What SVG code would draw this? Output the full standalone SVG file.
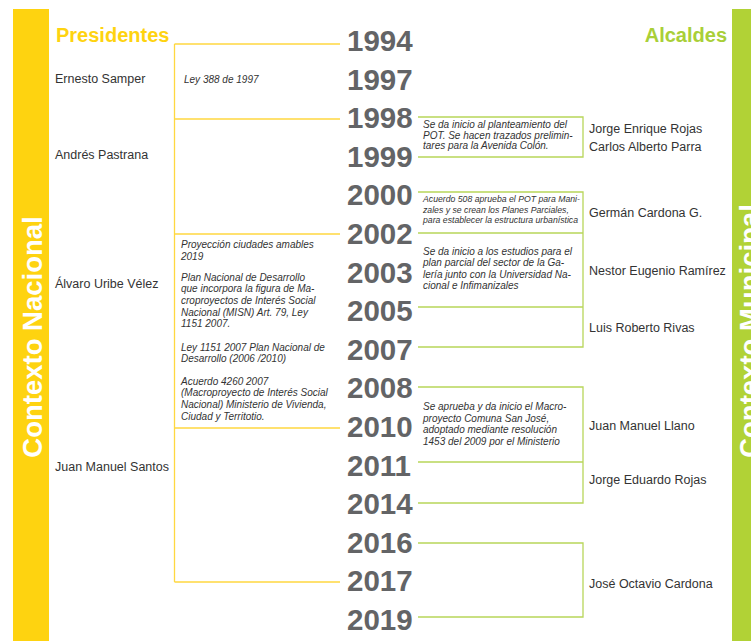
<svg xmlns="http://www.w3.org/2000/svg" width="751" height="641" viewBox="0 0 751 641">
<defs>
<style>
.bg{fill:#ffffff}
.ybar{fill:#FED310}
.gbar{fill:#B1D236}
.vlabel{font-family:"Liberation Sans",Arial,sans-serif;font-weight:bold;font-size:27.5px;fill:#ffffff}
.yhead{font-family:"Liberation Sans",Arial,sans-serif;font-weight:bold;font-size:20px;fill:#FED310}
.ghead{font-family:"Liberation Sans",Arial,sans-serif;font-weight:bold;font-size:20px;fill:#A9CF38}
.year{font-family:"Liberation Sans",Arial,sans-serif;font-weight:bold;font-size:29.5px;fill:#636466}
.name{font-family:"Liberation Sans",Arial,sans-serif;font-size:12.5px;fill:#333333}
.note{font-family:"Liberation Sans",Arial,sans-serif;font-style:italic;font-size:10px;fill:#333333}
.note-s{font-family:"Liberation Sans",Arial,sans-serif;font-style:italic;font-size:8.7px;fill:#333333}
.yl{fill:none;stroke:#FFD840;stroke-width:1.3}
.gl{fill:none;stroke:#B8D65A;stroke-width:1.3}
</style>
</defs>
<rect class="bg" x="0" y="0" width="751" height="641"/>

<g id="bar-nacional">
<rect class="ybar" x="13" y="9" width="36" height="632"/>
<text class="vlabel" transform="translate(41.5,337) rotate(-90)" text-anchor="middle">Contexto Nacional</text>
</g>
<g id="bar-municipal">
<rect class="gbar" x="732" y="9" width="19" height="632"/>
<text class="vlabel" transform="translate(758.5,331) rotate(-90)" text-anchor="middle">Contexto Municipal</text>
</g>

<g id="header-presidentes"><text class="yhead" x="56" y="42">Presidentes</text></g>
<g id="header-alcaldes"><text class="ghead" x="727" y="42" text-anchor="end">Alcaldes</text></g>

<g id="connectors">
<path class="yl" d="M174.5,44 H340 M174.5,119 H340 M174.5,234 H340 M174.5,428 H340 M174.5,582 H340 M174.5,44 V582"/>
<path class="gl" d="M418,117 H583 V157 H418"/>
<path class="gl" d="M418,192 H583 V347 H418 M418,233 H583 M418,307 H583"/>
<path class="gl" d="M418,387 H583 V503 H418 M418,462 H583"/>
<path class="gl" d="M418,543 H583 V617 H418"/>
</g>

<g id="years">
<text class="year" x="347" y="51">1994</text>
<text class="year" x="347" y="89.6">1997</text>
<text class="year" x="347" y="128.2">1998</text>
<text class="year" x="347" y="166.8">1999</text>
<text class="year" x="347" y="205.4">2000</text>
<text class="year" x="347" y="244">2002</text>
<text class="year" x="347" y="282.6">2003</text>
<text class="year" x="347" y="321.2">2005</text>
<text class="year" x="347" y="359.8">2007</text>
<text class="year" x="347" y="398.4">2008</text>
<text class="year" x="347" y="437">2010</text>
<text class="year" x="347" y="475.6">2011</text>
<text class="year" x="347" y="514.2">2014</text>
<text class="year" x="347" y="552.8">2016</text>
<text class="year" x="347" y="591.4">2017</text>
<text class="year" x="347" y="630">2019</text>
</g>

<g id="pres-samper"><text class="name" x="55" y="83">Ernesto Samper</text></g>
<g id="pres-pastrana"><text class="name" x="55" y="159">Andrés Pastrana</text></g>
<g id="pres-uribe"><text class="name" x="55" y="288">Álvaro Uribe Vélez</text></g>
<g id="pres-santos"><text class="name" x="55" y="471">Juan Manuel Santos</text></g>

<g id="note-ley388"><text class="note" x="184" y="83">Ley 388 de 1997</text></g>
<g id="note-uribe">
<text class="note" x="181" y="247.5">Proyección ciudades amables</text>
<text class="note" x="181" y="259.5">2019</text>
<text class="note" x="181" y="280.5">Plan Nacional de Desarrollo</text>
<text class="note" x="181" y="292">que incorpora la figura de Ma-</text>
<text class="note" x="181" y="303.5">croproyectos de Interés Social</text>
<text class="note" x="181" y="315.5">Nacional (MISN) Art. 79, Ley</text>
<text class="note" x="181" y="327">1151 2007.</text>
<text class="note" x="181" y="350.5">Ley 1151 2007 Plan Nacional de</text>
<text class="note" x="181" y="362">Desarrollo (2006 /2010)</text>
<text class="note" x="181" y="384.5">Acuerdo 4260 2007</text>
<text class="note" x="181" y="396">(Macroproyecto de Interés Social</text>
<text class="note" x="181" y="407.5">Nacional) Ministerio de Vivienda,</text>
<text class="note" x="181" y="419.5">Ciudad y Territotio.</text>
</g>

<g id="note-pot">
<text class="note" x="423" y="128">Se da inicio al planteamiento del</text>
<text class="note" x="423" y="138.5">POT. Se hacen trazados prelimin-</text>
<text class="note" x="423" y="149">tares para la Avenida Colón.</text>
</g>
<g id="note-acuerdo508">
<text class="note-s" x="423" y="202">Acuerdo 508 aprueba el POT para Mani-</text>
<text class="note-s" x="423" y="212.5">zales y se crean los Planes Parciales,</text>
<text class="note-s" x="423" y="223">para establecer la estructura urbanística</text>
</g>
<g id="note-galeria">
<text class="note" x="423" y="255">Se da inicio a los estudios para el</text>
<text class="note" x="423" y="266.3">plan parcial del  sector de la Ga-</text>
<text class="note" x="423" y="277.6">lería junto con la Universidad Na-</text>
<text class="note" x="423" y="289">cional e Infimanizales</text>
</g>
<g id="note-sanjose">
<text class="note" x="423" y="410">Se aprueba y da inicio el Macro-</text>
<text class="note" x="423" y="421.5">proyecto Comuna San José,</text>
<text class="note" x="423" y="433">adoptado mediante resolución</text>
<text class="note" x="423" y="444.5">1453 del 2009 por el Ministerio</text>
</g>

<g id="alc-rojas-parra">
<text class="name" x="589" y="133">Jorge Enrique Rojas</text>
<text class="name" x="589" y="150.5">Carlos Alberto Parra</text>
</g>
<g id="alc-cardona-g"><text class="name" x="589" y="216.5">Germán Cardona G.</text></g>
<g id="alc-ramirez"><text class="name" x="589" y="275">Nestor Eugenio Ramírez</text></g>
<g id="alc-rivas"><text class="name" x="589" y="332">Luis Roberto Rivas</text></g>
<g id="alc-llano"><text class="name" x="589" y="430">Juan Manuel Llano</text></g>
<g id="alc-eduardo-rojas"><text class="name" x="589" y="484">Jorge Eduardo Rojas</text></g>
<g id="alc-octavio-cardona"><text class="name" x="589" y="588">José Octavio Cardona</text></g>
</svg>
